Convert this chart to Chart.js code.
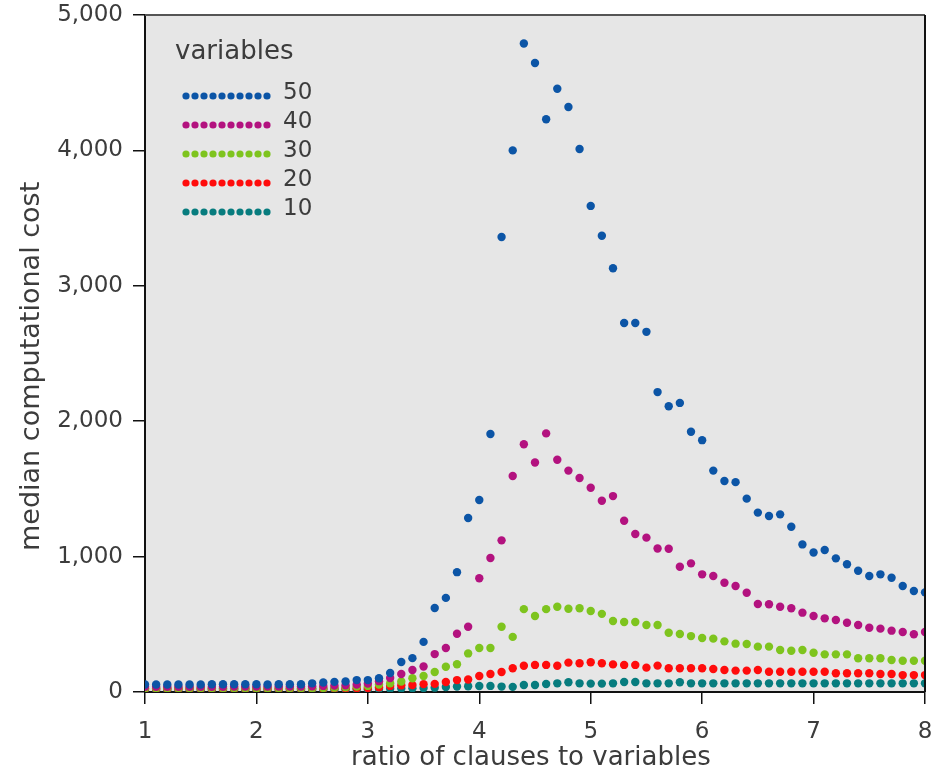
<!DOCTYPE html>
<html lang="en">
<head>
    <meta charset="UTF-8">
    <title>Median computational cost</title>
    <script src="https://cdn.jsdelivr.net/npm/chart.js"></script>
    <style>
        body {
            margin: 0;
            background: white;
            overflow: hidden;
        }
        .chart-container {
            width: 938px;
            height: 775px;
        }
    </style>
</head>
<body>
    <div class="chart-container">
        <canvas id="costChart"></canvas>
    </div>
    <script>
        // ratio of clauses to variables (x values)
        const ratios = [
            1.0, 1.1, 1.2, 1.3, 1.4, 1.5, 1.6, 1.7, 1.8, 1.9,
            2.0, 2.1, 2.2, 2.3, 2.4, 2.5, 2.6, 2.7, 2.8, 2.9,
            3.0, 3.1, 3.2, 3.3, 3.4, 3.5, 3.6, 3.7, 3.8, 3.9,
            4.0, 4.1, 4.2, 4.3, 4.4, 4.5, 4.6, 4.7, 4.8, 4.9,
            5.0, 5.1, 5.2, 5.3, 5.4, 5.5, 5.6, 5.7, 5.8, 5.9,
            6.0, 6.1, 6.2, 6.3, 6.4, 6.5, 6.6, 6.7, 6.8, 6.9,
            7.0, 7.1, 7.2, 7.3, 7.4, 7.5, 7.6, 7.7, 7.8, 7.9,
            8.0
        ];

        const seriesNames = ['50', '40', '30', '20', '10'];
        const seriesColors = ['#0c55a6', '#b3127f', '#7ec41e', '#ff0c0c', '#077c7e'];

        const vars50 = [
            55, 55, 55, 55, 55, 55, 57, 57, 57, 57,
            57, 55, 57, 57, 57, 64, 70, 75, 78, 88,
            88, 102, 140, 222, 250, 370, 620, 695, 885, 1285,
            1418, 1905, 3360, 4000, 4790, 4645, 4230, 4455, 4320, 4010,
            3590, 3370, 3130, 2725, 2725, 2660, 2215, 2110, 2135, 1922,
            1860, 1635, 1558, 1550, 1428, 1325, 1300, 1312, 1221, 1090,
            1030, 1049, 987, 943, 896, 857, 869, 844, 783, 746,
            736
        ];
        const vars40 = [
            38, 38, 38, 38, 38, 38, 38, 38, 40, 40,
            40, 40, 40, 40, 40, 42, 45, 48, 50, 55,
            62, 80, 103, 133, 162, 188, 280, 325, 430, 482,
            840, 990, 1120, 1595, 1830, 1695, 1910, 1715, 1635, 1580,
            1508, 1412, 1447, 1265, 1167, 1140, 1060, 1058, 925, 950,
            869, 857, 807, 783, 733, 650, 648, 630, 618, 586,
            561, 544, 532, 512, 495, 475, 468, 453, 443, 426,
            443
        ];
        const vars30 = [
            28, 28, 28, 28, 28, 28, 28, 28, 28, 28,
            28, 28, 28, 28, 28, 28, 30, 32, 35, 40,
            45, 55, 65, 78, 102, 118, 148, 187, 205, 285,
            325, 325, 482, 407, 612, 561, 612, 630, 615, 618,
            598, 577, 524, 517, 517, 495, 495, 438, 428, 413,
            399, 394, 374, 357, 354, 335, 335, 310, 305, 310,
            290, 278, 278, 278, 249, 249, 249, 236, 231, 231,
            231
        ];
        const vars20 = [
            22, 22, 22, 22, 22, 22, 22, 22, 22, 22,
            22, 22, 22, 22, 22, 24, 24, 25, 26, 28,
            30, 35, 45, 50, 52, 58, 60, 74, 88, 92,
            118, 133, 148, 175, 194, 200, 200, 194, 217, 212,
            220, 212, 204, 200, 200, 180, 195, 175, 175, 175,
            175, 170, 162, 158, 158, 162, 150, 150, 150, 150,
            150, 150, 138, 138, 138, 138, 133, 133, 125, 125,
            125
        ];
        const vars10 = [
            15, 15, 15, 15, 15, 15, 15, 15, 15, 15,
            15, 15, 15, 15, 16, 16, 17, 17, 18, 18,
            20, 22, 24, 26, 28, 30, 32, 37, 40, 42,
            44, 45, 40, 38, 52, 52, 59, 64, 72, 64,
            62, 62, 64, 74, 74, 64, 64, 64, 72, 64,
            64, 64, 64, 64, 64, 64, 64, 64, 64, 64,
            64, 64, 64, 64, 64, 64, 64, 64, 64, 64,
            64
        ];
        const seriesValues = [vars50, vars40, vars30, vars20, vars10];

        const yTicks = [0, 1000, 2000, 3000, 4000, 5000];
        const xTicks = [1, 2, 3, 4, 5, 6, 7, 8];

        const textColor = '#3c3c3c';
        const fontFamily = '"DejaVu Sans", sans-serif';

        // grey plot background
        const plotBackground = {
            id: 'plotBackground',
            beforeDraw(chart) {
                const { ctx, chartArea: a } = chart;
                ctx.save();
                ctx.fillStyle = '#e6e6e6';
                ctx.fillRect(a.left, a.top, a.right - a.left, a.bottom - a.top);
                ctx.restore();
            },
            afterDraw(chart) {
                // top and right frame lines
                const { ctx, chartArea: a } = chart;
                ctx.save();
                ctx.lineWidth = 2;
                ctx.strokeStyle = '#555';
                ctx.beginPath();
                ctx.moveTo(a.left, a.top);
                ctx.lineTo(a.right, a.top);
                ctx.stroke();
                ctx.strokeStyle = '#111';
                ctx.beginPath();
                ctx.moveTo(a.right, a.top);
                ctx.lineTo(a.right, a.bottom);
                ctx.stroke();
                ctx.restore();
            }
        };

        // legend with a row of dots per series, inside the plot
        const dotLegend = {
            id: 'dotLegend',
            afterDatasetsDraw(chart) {
                const { ctx, chartArea: a } = chart;
                const x0 = a.left + 30;
                ctx.save();
                ctx.textBaseline = 'middle';
                ctx.fillStyle = textColor;
                ctx.font = '26px ' + fontFamily;
                ctx.fillText('variables', x0, a.top + 37);
                chart.data.datasets.forEach((ds, i) => {
                    const y = a.top + 81 + i * 29;
                    ctx.fillStyle = ds.backgroundColor;
                    for (let k = 0; k < 10; k++) {
                        ctx.beginPath();
                        ctx.arc(x0 + 11 + k * 9, y, 3.6, 0, Math.PI * 2);
                        ctx.fill();
                    }
                    ctx.fillStyle = textColor;
                    ctx.font = '23px ' + fontFamily;
                    ctx.fillText(ds.label, x0 + 108, y - 3);
                });
                ctx.restore();
            }
        };

        // fixed axis sizes so the plot area lands where the original had it
        function fitX(scale) {
            scale.height = 83;
            scale.paddingLeft = 0;
            scale.paddingRight = 0;
        }
        function fitY(scale) {
            scale.width = 145;
            scale.paddingTop = 0;
            scale.paddingBottom = 0;
        }

        const ctx = document.getElementById('costChart').getContext('2d');
        const chart = new Chart(ctx, {
            type: 'scatter',
            data: {
                datasets: seriesNames.map((name, i) => ({
                    label: name,
                    data: ratios.map((r, j) => ({ x: r, y: seriesValues[i][j] })),
                    backgroundColor: seriesColors[i],
                    borderWidth: 0,
                    pointRadius: 4.2,
                    pointHoverRadius: 4.2,
                    pointStyle: 'circle'
                }))
            },
            options: {
                responsive: true,
                maintainAspectRatio: false,
                animation: false,
                layout: {
                    padding: { top: 15, right: 13, left: 0, bottom: 0 }
                },
                scales: {
                    x: {
                        type: 'linear',
                        min: 1,
                        max: 8,
                        afterFit: fitX,
                        afterBuildTicks: (scale) => {
                            scale.ticks = xTicks.map(v => ({ value: v }));
                        },
                        border: { display: true, color: '#111', width: 2 },
                        grid: {
                            drawOnChartArea: false,
                            drawTicks: true,
                            tickLength: 12,
                            color: '#111',
                            lineWidth: 1.5
                        },
                        ticks: {
                            color: textColor,
                            padding: 14,
                            maxRotation: 0,
                            font: { family: fontFamily, size: 23 }
                        },
                        title: {
                            display: true,
                            text: 'ratio of clauses to variables ',
                            color: textColor,
                            padding: { top: 0, bottom: 1 },
                            font: { family: fontFamily, size: 26 }
                        }
                    },
                    y: {
                        min: 0,
                        max: 5000,
                        afterFit: fitY,
                        afterBuildTicks: (scale) => {
                            scale.ticks = yTicks.map(v => ({ value: v }));
                        },
                        border: { display: true, color: '#111', width: 2 },
                        grid: {
                            drawOnChartArea: false,
                            drawTicks: true,
                            tickLength: 12,
                            color: '#111',
                            lineWidth: 1.5
                        },
                        ticks: {
                            color: textColor,
                            padding: 10,
                            font: { family: fontFamily, size: 23 },
                            callback: (value) => value.toLocaleString('en-US')
                        },
                        title: {
                            display: true,
                            text: 'median computational cost   ',
                            color: textColor,
                            padding: { top: 16, bottom: 0 },
                            font: { family: fontFamily, size: 27 }
                        }
                    }
                },
                plugins: {
                    legend: { display: false },
                    tooltip: { enabled: false }
                }
            },
            plugins: [plotBackground, dotLegend]
        });
    </script>
</body>
</html>
